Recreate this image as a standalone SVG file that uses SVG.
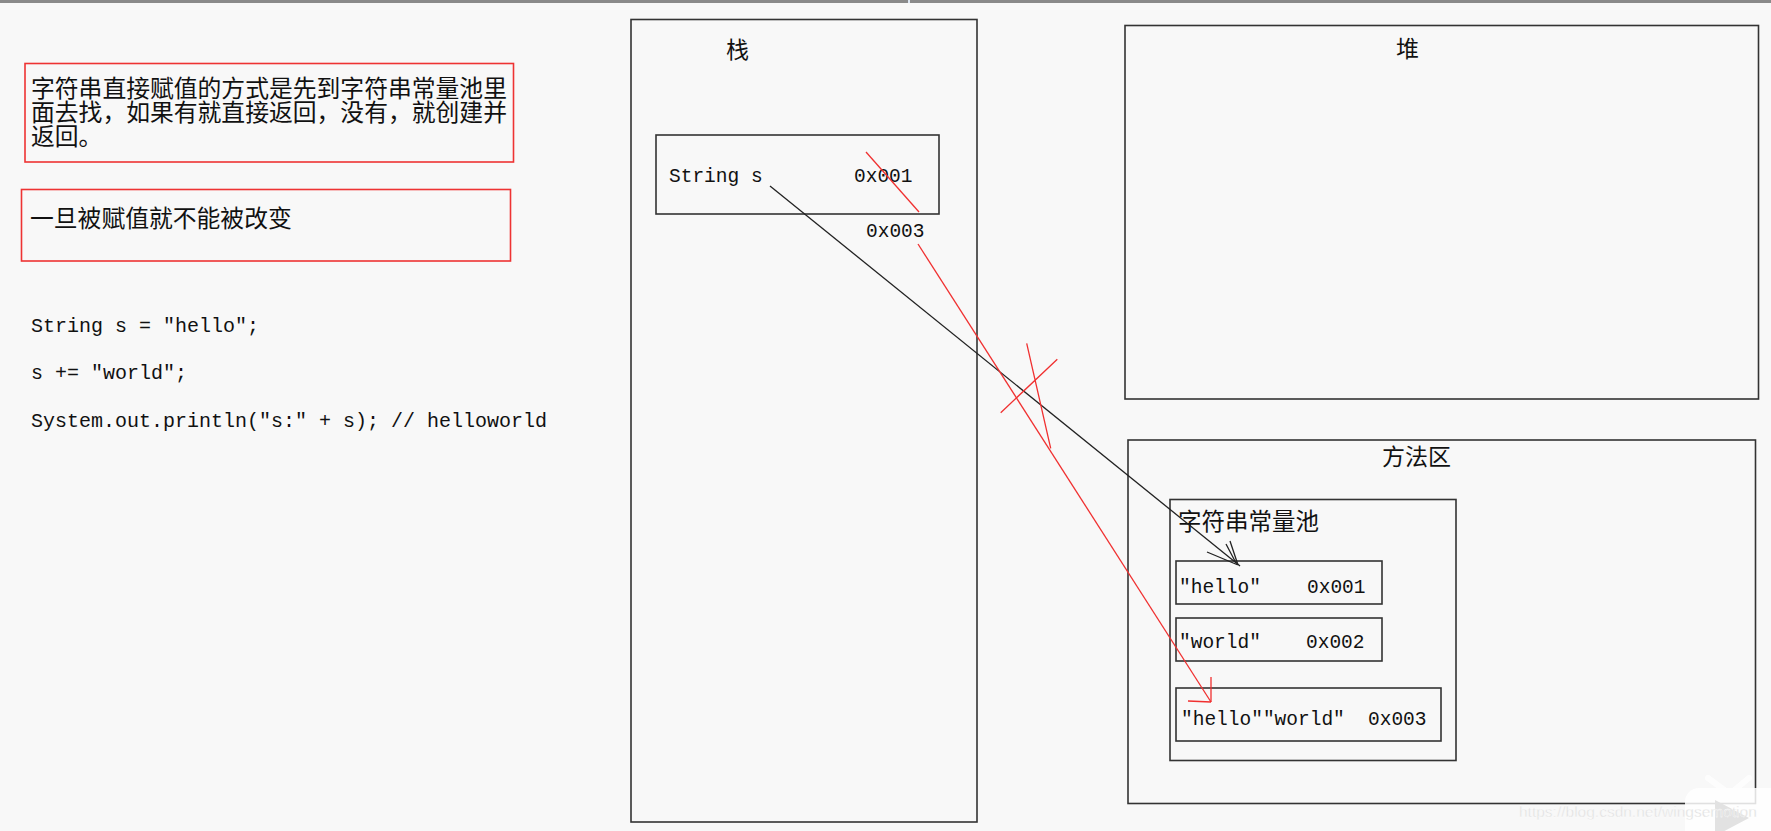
<svg xmlns="http://www.w3.org/2000/svg" width="1771" height="831" viewBox="0 0 1771 831">
<style>
.box{fill:none;stroke:#333;stroke-width:1.6}
.note{fill:none;stroke:#ee3333;stroke-width:1.6}
.cjk{font-family:"Noto Sans CJK SC",sans-serif;fill:#111}
.mono{font-family:"Liberation Mono","DejaVu Sans Mono",monospace;fill:#111;font-size:19.5px}
.code{font-size:20px}
.blk{stroke:#222;stroke-width:1.3;fill:none}
.red{stroke:#f03030;stroke-width:1.3;fill:none}
</style>
<rect x="0" y="0" width="1771" height="831" fill="#f8f8f8"/>
<rect x="0" y="0" width="1771" height="3" fill="#8a8a8a"/>
<rect x="908" y="0" width="2" height="3" fill="#dde6f2"/>

<g id="note1">
<rect class="note" x="25" y="63.5" width="488.5" height="98.5"/>
<text class="cjk" font-size="23.8"><tspan x="31" y="97">字符串直接赋值的方式是先到字符串常量池里</tspan><tspan x="31" y="121">面去找，如果有就直接返回，没有，就创建并</tspan><tspan x="31" y="145">返回。</tspan></text>
</g>
<g id="note2">
<rect class="note" x="21.5" y="189.5" width="489" height="71.5"/>
<text class="cjk" font-size="23.8" x="30" y="227">一旦被赋值就不能被改变</text>
</g>
<g id="code">
<text class="mono code" x="31" y="332">String s = "hello";</text>
<text class="mono code" x="31" y="379">s += "world";</text>
<text class="mono code" x="31" y="427">System.out.println("s:" + s); // helloworld</text>
</g>

<g id="stack">
<rect class="box" x="631" y="19.5" width="346" height="802.5"/>
<text class="cjk" font-size="23" x="726" y="58">栈</text>
</g>
<g id="var-s">
<rect class="box" x="656" y="135" width="283" height="79"/>
<text class="mono" x="669" y="182">String s</text>
<text class="mono" x="854" y="182">0x001</text>
<text class="mono" x="866" y="237">0x003</text>
</g>

<g id="heap">
<rect class="box" x="1125" y="25.5" width="633.5" height="373.5"/>
<text class="cjk" font-size="23" x="1396" y="57">堆</text>
</g>

<g id="method-area">
<rect class="box" x="1128" y="440" width="627.5" height="363.5"/>
<text class="cjk" font-size="23" x="1382" y="465">方法区</text>
</g>
<g id="string-pool">
<rect class="box" x="1170" y="499.5" width="286" height="261"/>
<text class="cjk" font-size="23.5" x="1178" y="530">字符串常量池</text>
</g>
<g id="hello">
<rect class="box" x="1176" y="561" width="206" height="43"/>
<text class="mono" x="1179" y="593">"hello"</text>
<text class="mono" x="1307" y="593">0x001</text>
</g>
<g id="world">
<rect class="box" x="1176" y="618" width="206" height="43"/>
<text class="mono" x="1179" y="648">"world"</text>
<text class="mono" x="1306" y="648">0x002</text>
</g>
<g id="helloworld">
<rect class="box" x="1176" y="688" width="265" height="53"/>
<text class="mono" x="1181" y="725">"hello""world"</text>
<text class="mono" x="1368" y="725">0x003</text>
</g>

<g id="connectors">
<path class="blk" d="M770 186 L1240 566"/>
<path class="blk" d="M1238 565 L1207 552 M1238 565 L1230 541 M1236 563 L1226 544"/>
<path class="red" d="M866 152 L919 212"/>
<path class="red" d="M918 244 L1211 702"/>
<path class="red" d="M1211 702 L1211 677 M1211 702 L1188 701"/>
<path class="red" d="M1000.7 412.7 L1057.3 359.3 M1026.7 343.3 L1050.7 448.3"/>
</g>

<g id="watermark">
<rect x="1685" y="788" width="110" height="70" rx="14" fill="#ffffff" opacity="0.85"/>
<path d="M1708 778 L1727 792 M1749 778 L1732 792" stroke="#ffffff" stroke-width="6" stroke-linecap="round" opacity="0.85"/>
<path d="M1715 800 L1749 818 L1715 836 Z" fill="#e2e2e2"/>
<text x="1519" y="817" font-family="Liberation Sans,sans-serif" font-size="15.5" fill="#e0e0e0" stroke="#ffffff" stroke-width="0.3">https://blog.csdn.net/wingsemotion</text>
</g>
</svg>
